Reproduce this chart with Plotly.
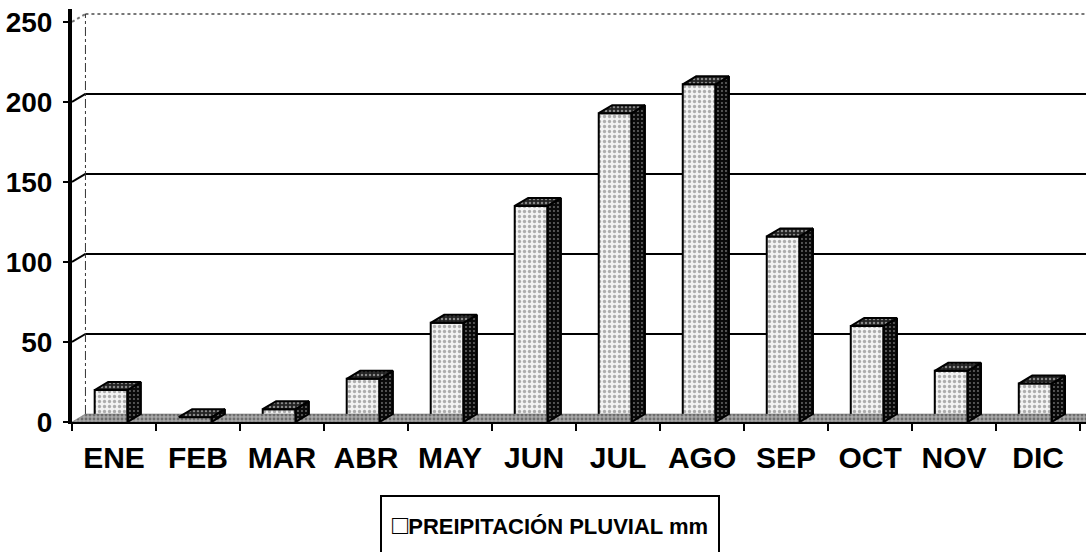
import plotly.graph_objects as go

months = ["ENE", "FEB", "MAR", "ABR", "MAY", "JUN", "JUL", "AGO", "SEP", "OCT", "NOV", "DIC"]
precip = [20, 3, 8, 27, 62, 135, 193, 211, 116, 60, 32, 24]
y_ticks = [0, 50, 100, 150, 200, 250]
legend_label = "PREIPITACIÓN PLUVIAL mm"

# 3D look parameters (in axis units)
bar_w = 0.39
bar_off = -0.23
dx = 0.16
dy = 5
x_lo = -0.5
x_hi = 11.57
y_top = 258.1

idx = list(range(len(months)))

fig = go.Figure()

# floor strip
fig.add_trace(go.Scatter(
    x=[x_lo, x_hi, x_hi, x_lo + dx, x_lo], y=[0, 0, dy, dy, 0],
    mode="lines", fill="toself", line=dict(color="#666", width=0.5),
    fillcolor="#999",
    fillpattern=dict(shape=".", bgcolor="#a8a8a8", fgcolor="#333", size=4, solidity=0.4),
    hoverinfo="skip", showlegend=False))

# front faces
fig.add_trace(go.Bar(
    x=idx, y=precip, width=bar_w, offset=bar_off,
    marker=dict(color="white", line=dict(color="black", width=2),
                pattern=dict(shape=".", bgcolor="#f2f2f2", fgcolor="#666", size=5, solidity=0.34)),
    showlegend=False, name=legend_label))

# side and top faces
sx, sy, tx, ty = [], [], [], []
for i, v in zip(idx, precip):
    x0 = i + bar_off
    x1 = x0 + bar_w
    sx += [x1, x1 + dx, x1 + dx, x1, x1, None]
    sy += [0, dy, v + dy, v, 0, None]
    tx += [x0, x1, x1 + dx, x0 + dx, x0, None]
    ty += [v, v, v + dy, v + dy, v, None]

fig.add_trace(go.Scatter(
    x=sx, y=sy, mode="lines", fill="toself", line=dict(color="black", width=2),
    fillcolor="#0a0a0a",
    fillpattern=dict(shape=".", bgcolor="#0a0a0a", fgcolor="#cfcfcf", size=4, solidity=0.18),
    hoverinfo="skip", showlegend=False))
fig.add_trace(go.Scatter(
    x=tx, y=ty, mode="lines", fill="toself", line=dict(color="black", width=2),
    fillcolor="#333",
    fillpattern=dict(shape=".", bgcolor="#222", fgcolor="#eee", size=4, solidity=0.3),
    hoverinfo="skip", showlegend=False))

shapes = []
# back-wall gridlines with diagonal connector from the axis
for v in y_ticks[1:]:
    dash = "dot" if v == 250 else "solid"
    col = "#777" if v == 250 else "black"
    shapes.append(dict(type="line", xref="x", yref="y", x0=x_lo, y0=v, x1=x_lo + dx, y1=v + dy,
                       line=dict(color=col, width=2, dash=dash), layer="below"))
    shapes.append(dict(type="line", xref="x", yref="y", x0=x_lo + dx, y0=v + dy, x1=x_hi, y1=v + dy,
                       line=dict(color=col, width=2, dash=dash), layer="below"))
# back wall left edge (dashed)
shapes.append(dict(type="line", xref="x", yref="y", x0=x_lo + dx, y0=dy, x1=x_lo + dx, y1=y_ticks[-1] + dy,
                   line=dict(color="#333", width=1, dash="dashdot"), layer="below"))

fig.update_layout(
    width=1086, height=552,
    margin=dict(l=72, r=0, t=9, b=130),
    plot_bgcolor="white", paper_bgcolor="white",
    shapes=shapes,
    showlegend=False,
    font=dict(family="Liberation Sans, Arial, sans-serif", color="black"),
)
fig.update_xaxes(
    range=[x_lo, x_hi], showgrid=False, zeroline=False,
    showline=True, linecolor="black", linewidth=2, automargin=False,
    tickvals=idx, ticktext=months, ticks="", ticklabelstandoff=8,
    tickfont=dict(size=30, weight="bold", color="black"),
    minor=dict(tick0=-0.5, dtick=1, ticks="outside", ticklen=7, tickwidth=2, tickcolor="black", showgrid=False),
    fixedrange=True,
)
fig.update_yaxes(
    range=[0, y_top], showgrid=False, zeroline=False,
    showline=True, linecolor="black", linewidth=4, automargin=False,
    tickvals=y_ticks, ticks="outside", ticklen=5, tickwidth=2, tickcolor="black",
    ticklabelstandoff=5,
    tickfont=dict(size=28, weight="bold", color="black"),
    fixedrange=True,
)

fig.add_annotation(
    xref="paper", yref="paper", x=0.4714, y=-0.2494, xanchor="center", yanchor="middle",
    text="<span style='font-size:27px'>□</span>" + legend_label, showarrow=False, width=336, height=56,
    font=dict(size=22, weight="bold", color="black", family="Liberation Sans, Arial, sans-serif"),
    bordercolor="black", borderwidth=2, borderpad=0, bgcolor="white",
)

fig.write_html(
    "out.html",
    config={"displayModeBar": False},
    post_script="document.body.style.margin='0';document.body.style.overflow='hidden';",
)
